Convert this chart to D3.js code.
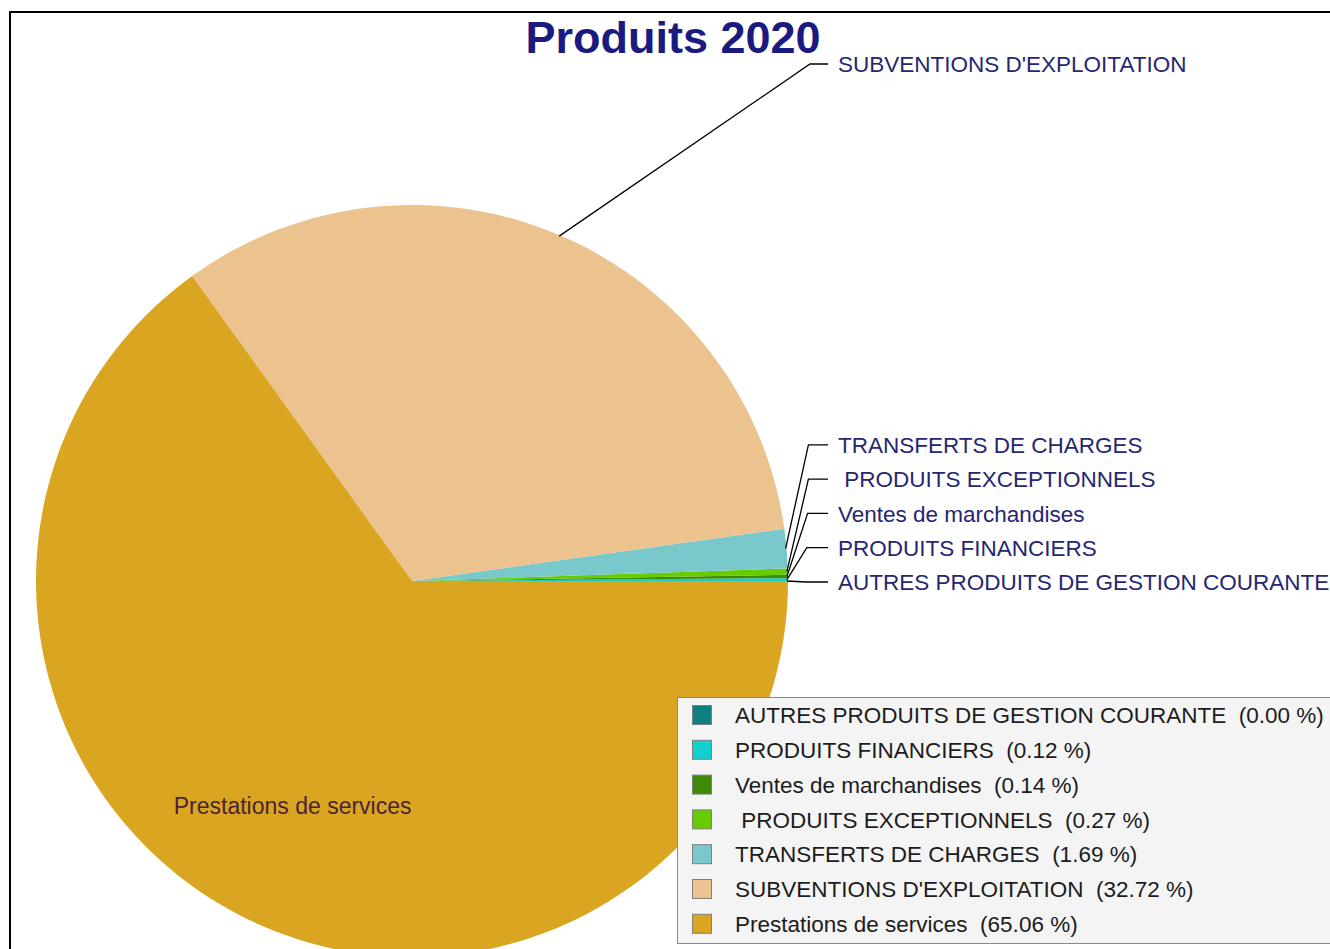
<!DOCTYPE html>
<html lang="fr">
<head>
<meta charset="utf-8" />
<title>Produits 2020</title>
<style>
  body { margin: 0; background: #fff; }
  text { font-family: "Liberation Sans", Arial, sans-serif; white-space: pre; }
  .lbl { font-size: 22.5px; fill: #262673; }
  .leg { font-size: 22.5px; fill: #1c1c1c; }
  .lead { fill: none; stroke: #000; stroke-width: 1.3px; }
</style>
<script src="https://cdn.jsdelivr.net/npm/d3@7"></script>
</head>
<body>
<script>
// data (percent of total)
var categories = ["AUTRES PRODUITS DE GESTION COURANTE", "PRODUITS FINANCIERS", "Ventes de marchandises",
                  " PRODUITS EXCEPTIONNELS", "TRANSFERTS DE CHARGES", "SUBVENTIONS D'EXPLOITATION", "Prestations de services"];
var values = [0.00, 0.12, 0.14, 0.27, 1.69, 32.72, 65.06];
var colors = ["#0f8080", "#12d0d0", "#3f8a04", "#66cc00", "#78c8cc", "#ecc38f", "#daa520"];
var title = "Produits 2020";

var W = 1330, H = 949;
var cx = 412, cy = 581, r = 376;

var svg = d3.select("body").append("svg")
    .attr("width", W)
    .attr("height", H);

// outer frame
svg.append("rect")
    .attr("x", 10).attr("y", 12)
    .attr("width", W).attr("height", H)
    .attr("fill", "#fff")
    .attr("stroke", "#000")
    .attr("stroke-width", 2);

var data = categories.map(function(c, i) { return {name: c, value: values[i], color: colors[i]}; });
var total = d3.sum(values);

// counter-clockwise from 3 o'clock
var pie = d3.pie()
    .sort(null)
    .value(function(d) { return d.value; })
    .startAngle(Math.PI / 2)
    .endAngle(Math.PI / 2 - 2 * Math.PI);

var arcs = pie(data);
var arc = d3.arc().innerRadius(0).outerRadius(r);
var inner = d3.arc().innerRadius(r * 0.685).outerRadius(r * 0.685);

var g = svg.append("g").attr("transform", "translate(" + cx + "," + cy + ")");

g.selectAll("path.slice")
    .data(arcs)
  .enter().append("path")
    .attr("class", "slice")
    .attr("fill", function(d) { return d.data.color; })
    .attr("d", arc);

// point on the rim at the middle of a slice
function rim(d, rad) {
  var a = (d.startAngle + d.endAngle) / 2;
  return [rad * Math.sin(a), -rad * Math.cos(a)];
}

// outside labels: small slices stacked up the right side, big one up top
var labelX = r + 50;
var labelY = {};
arcs.forEach(function(d, i) {
  if (i < 5) labelY[i] = 1 - i * 34.3;
  else if (i === 5) labelY[i] = 64 - cy;
});

arcs.forEach(function(d, i) {
  if (labelY[i] === undefined) return;
  var p = rim(d, r - 1);
  var y = labelY[i];
  var cornerX = (i === 5) ? labelX - 28 : labelX - 32 + Math.min(i, 3) * 0.8;
  g.append("polyline")
      .attr("class", "lead")
      .attr("points", [p, [cornerX, y], [labelX - 10, y]].map(function(q) { return q.join(","); }).join(" "));
  g.append("text")
      .attr("class", "lbl")
      .attr("x", labelX)
      .attr("y", y)
      .attr("dy", "0.36em")
      .text(d.data.name);
});

// inside label for the biggest slice
var big = arcs[6];
g.append("text")
    .attr("x", inner.centroid(big)[0] - 2)
    .attr("y", inner.centroid(big)[1])
    .attr("dy", "0.15em")
    .attr("text-anchor", "middle")
    .style("font-size", "23px")
    .style("fill", "#4a2438")
    .text(big.data.name);

// legend box
var lg = svg.append("g").attr("transform", "translate(677,697)");
lg.append("rect")
    .attr("x", 0.5).attr("y", 0.5)
    .attr("width", 700).attr("height", 246)
    .attr("fill", "#f4f4f4")
    .attr("stroke", "#8a8a8a");

var rows = lg.selectAll("g.row")
    .data(data)
  .enter().append("g")
    .attr("class", "row")
    .attr("transform", function(d, i) { return "translate(0," + (8 + i * 34.8) + ")"; });

rows.append("rect")
    .attr("x", 15.5).attr("y", 0.5)
    .attr("width", 19).attr("height", 19)
    .attr("fill", function(d) { return d.color; })
    .attr("stroke", "#808080");

rows.append("text")
    .attr("class", "leg")
    .attr("x", 58)
    .attr("y", 10)
    .attr("dy", "0.36em")
    .text(function(d) { return d.name + "  (" + (d.value / total * 100).toFixed(2) + " %)"; });

// title
svg.append("text")
    .attr("x", 673)
    .attr("y", 53)
    .attr("text-anchor", "middle")
    .style("font-size", "45px")
    .style("font-weight", "bold")
    .style("fill", "#1a1a80")
    .text(title);
</script>
</body>
</html>
